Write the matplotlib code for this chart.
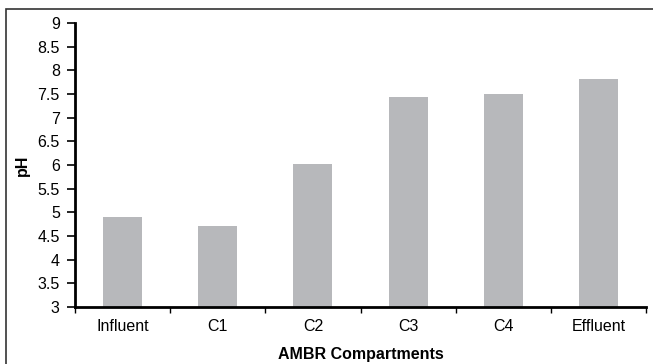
import matplotlib
matplotlib.use("Agg")
import matplotlib.pyplot as plt
from matplotlib.patches import Rectangle
import numpy as np

# data
categories = ["Influent", "C1", "C2", "C3", "C4", "Effluent"]
ph_values = [4.90, 4.71, 6.02, 7.44, 7.50, 7.82]
y_ticks = [3, 3.5, 4, 4.5, 5, 5.5, 6, 6.5, 7, 7.5, 8, 8.5, 9]
y_tick_labels = ["3", "3.5", "4", "4.5", "5", "5.5", "6", "6.5", "7", "7.5", "8", "8.5", "9"]

plt.rcParams['font.family'] = ['Liberation Sans', 'DejaVu Sans']

fig = plt.figure(figsize=(6.53, 3.64), dpi=100)
ax = fig.add_axes([0.1149, 0.1566, 0.8744, 0.7802])

# outer frame (only top and left visible in the reference)
fig.patches.append(Rectangle((0.0095, -0.5), 1.5, 1.4755, transform=fig.transFigure,
                             fill=False, edgecolor="#333333", linewidth=1.2))

x = np.arange(len(categories))
ax.bar(x, ph_values, width=0.41, color="#b7b8bb", zorder=2)

ax.set_xlim(-0.5, len(categories) - 0.5)
ax.set_ylim(3, 9)
ax.set_yticks(y_ticks)
ax.set_yticklabels(y_tick_labels, fontsize=11.5)
ax.set_xticks(x)
ax.set_xticklabels(categories, fontsize=11.5)
ax.tick_params(axis="x", which="major", length=0, pad=9)
ax.set_xticks(np.arange(-0.5, len(categories)), minor=True)
ax.tick_params(axis="x", which="minor", length=4, width=1, direction="out")
ax.tick_params(axis="y", length=6, width=1.2, direction="out", pad=5)

for s in ["top", "right"]:
    ax.spines[s].set_visible(False)
for s in ["left", "bottom"]:
    ax.spines[s].set_linewidth(2)

ax.set_ylabel("pH", fontsize=11.5, fontweight="bold", labelpad=5)
ax.set_xlabel("AMBR Compartments", fontsize=11.5, fontweight="bold", labelpad=9)

fig.savefig("out.png", dpi=100)
